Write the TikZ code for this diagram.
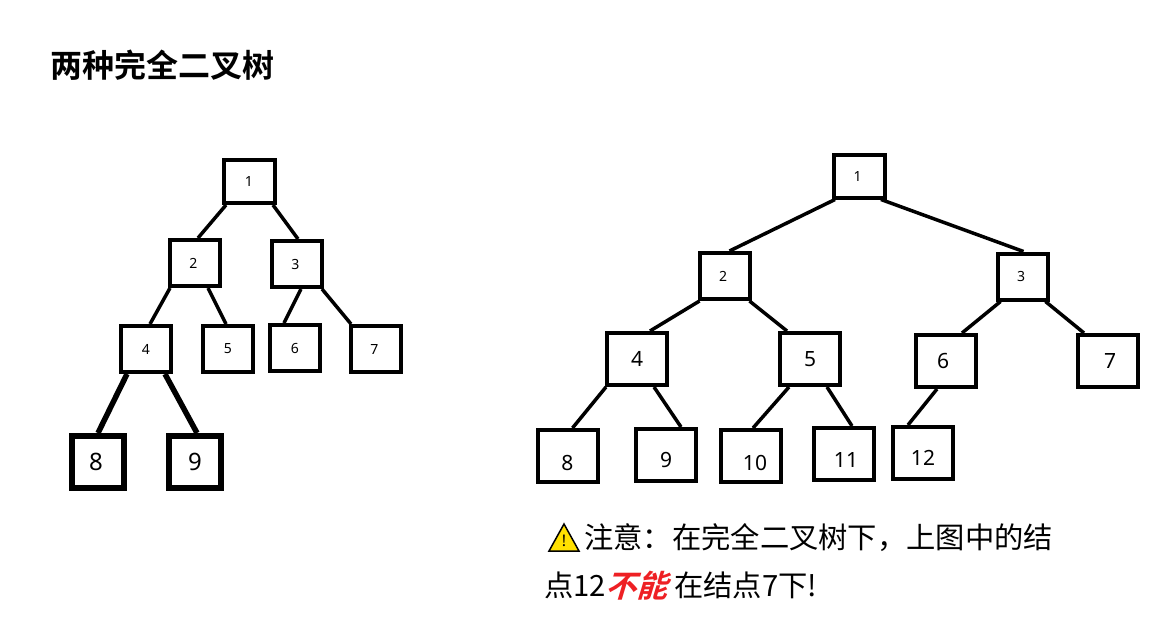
\documentclass[tikz,border=0pt]{standalone}
\usepackage{fontspec}
\setmainfont{Noto Sans}
\newfontfamily\cjk{Noto Sans CJK SC}
\newfontfamily\cjkbold{Noto Sans CJK SC Bold}
\definecolor{warnyellow}{HTML}{FFE000}
\definecolor{warnred}{HTML}{EE2024}
\tikzset{
  smallbox/.style={draw,line width=4pt,minimum width=50pt,minimum height=46pt,inner sep=0pt,font=\fontsize{14}{14}\selectfont},
  topbox/.style={smallbox,minimum width=51pt,minimum height=43pt},
  bigbox/.style={draw,line width=4pt,minimum width=60pt,minimum height=52pt,inner sep=0pt,font=\fontsize{21}{21}\selectfont},
  heavybox/.style={draw,line width=6pt,minimum width=52pt,minimum height=52pt,inner sep=0pt,font=\fontsize{24}{24}\selectfont},
  textline/.style={anchor=base west,inner sep=0pt,font=\cjk\fontsize{29.3}{29.3}\selectfont},
}
\begin{document}
\begin{tikzpicture}[x=1pt,y=-1pt]
  \useasboundingbox (0,0) rectangle (1168,640);
  \node[anchor=base west,inner sep=0pt,font=\cjkbold\fontsize{32}{32}\selectfont] (title) at (50,77) {两种完全二叉树};

  % left tree
  \node[topbox] (l1) at (249,181.5) {1};
  \node[smallbox] (l2) at (195,263) {\hspace*{-3pt}2};
  \node[smallbox] (l3) at (297,264) {\hspace*{-3pt}3};
  \node[smallbox] (l4) at (146,349) {4};
  \node[smallbox] (l5) at (228,349) {5};
  \node[smallbox] (l6) at (295,348) {6};
  \node[smallbox] (l7) at (376,349) {\hspace*{-3pt}7};
  \node[heavybox] (l8) at (98,462) {\hspace*{-4pt}8};
  \node[heavybox] (l9) at (195,462) {9};
  \foreach \from/\to/\a/\b in {l1/l2/-23/3,l1/l3/24/1,l2/l4/-25/4,l2/l5/13/-2,l3/l6/4/-11,l3/l7/25/-25}
    \draw[line width=3.5pt] ([xshift=\a]\from.south) -- ([xshift=\b]\to.north);
  \foreach \from/\to/\a/\b in {l4/l8/-19/0,l4/l9/19/2}
    \draw[line width=5.5pt] ([xshift=\a]\from.south) -- ([xshift=\b]\to.north);

  % right tree
  \node[topbox] (r1) at (859,176) {\hspace*{-3pt}1};
  \node[smallbox] (r2) at (724.5,276) {\hspace*{-3pt}2};
  \node[smallbox] (r3) at (1022.5,276.5) {\hspace*{-3pt}3};
  \node[bigbox] (r4) at (637,359) {4};
  \node[bigbox] (r5) at (810,359) {5};
  \node[bigbox] (r6) at (946,361) {\hspace*{-6pt}6};
  \node[bigbox] (r7) at (1108,361) {\hspace*{4pt}7};
  \node[bigbox] (r8) at (567.5,456) {\raisebox{-7pt}[15pt][0pt]{8}};
  \node[bigbox] (r9) at (666,455) {\raisebox{-5pt}[15pt][0pt]{9}};
  \node[bigbox] (r10) at (751,456) {\raisebox{-7pt}[15pt][0pt]{\hspace*{8pt}10}};
  \node[bigbox] (r11) at (844,454) {\raisebox{-6pt}[15pt][0pt]{\hspace*{4pt}11}};
  \node[bigbox] (r12) at (923,453) {\raisebox{-5pt}[15pt][0pt]{12}};
  \foreach \from/\to/\a/\b in {r1/r2/-24/5,r1/r3/22/1,r2/r4/-25/13,r2/r5/25/-23,r3/r6/-22/16,r3/r7/23/-24,r4/r8/-31/5,r4/r9/17/15,r5/r10/-21/2,r5/r11/17/8,r6/r12/-9/-15}
    \draw[line width=3.5pt] ([xshift=\a]\from.south) -- ([xshift=\b]\to.north);

  % note
  \draw[line width=1.5pt,fill=warnyellow,line join=miter] (564,524) -- (579,551) -- (549,551) -- cycle;
  \node[inner sep=0pt,font=\bfseries\fontsize{16}{16}\selectfont] (mark) at (564,541) {!};
  \node[textline] (line1) at (584,548) {注意：在完全二叉树下，上图中的结};
  \node[textline] (line2a) at (544,596) {点12};
  \node[textline,font=\cjkbold\fontsize{31}{31}\selectfont,text=warnred,xslant=.3] (line2b) at (605,597) {不能};
  \node[textline] (line2c) at (674,596) {在结点7下!};
\end{tikzpicture}
\end{document}
